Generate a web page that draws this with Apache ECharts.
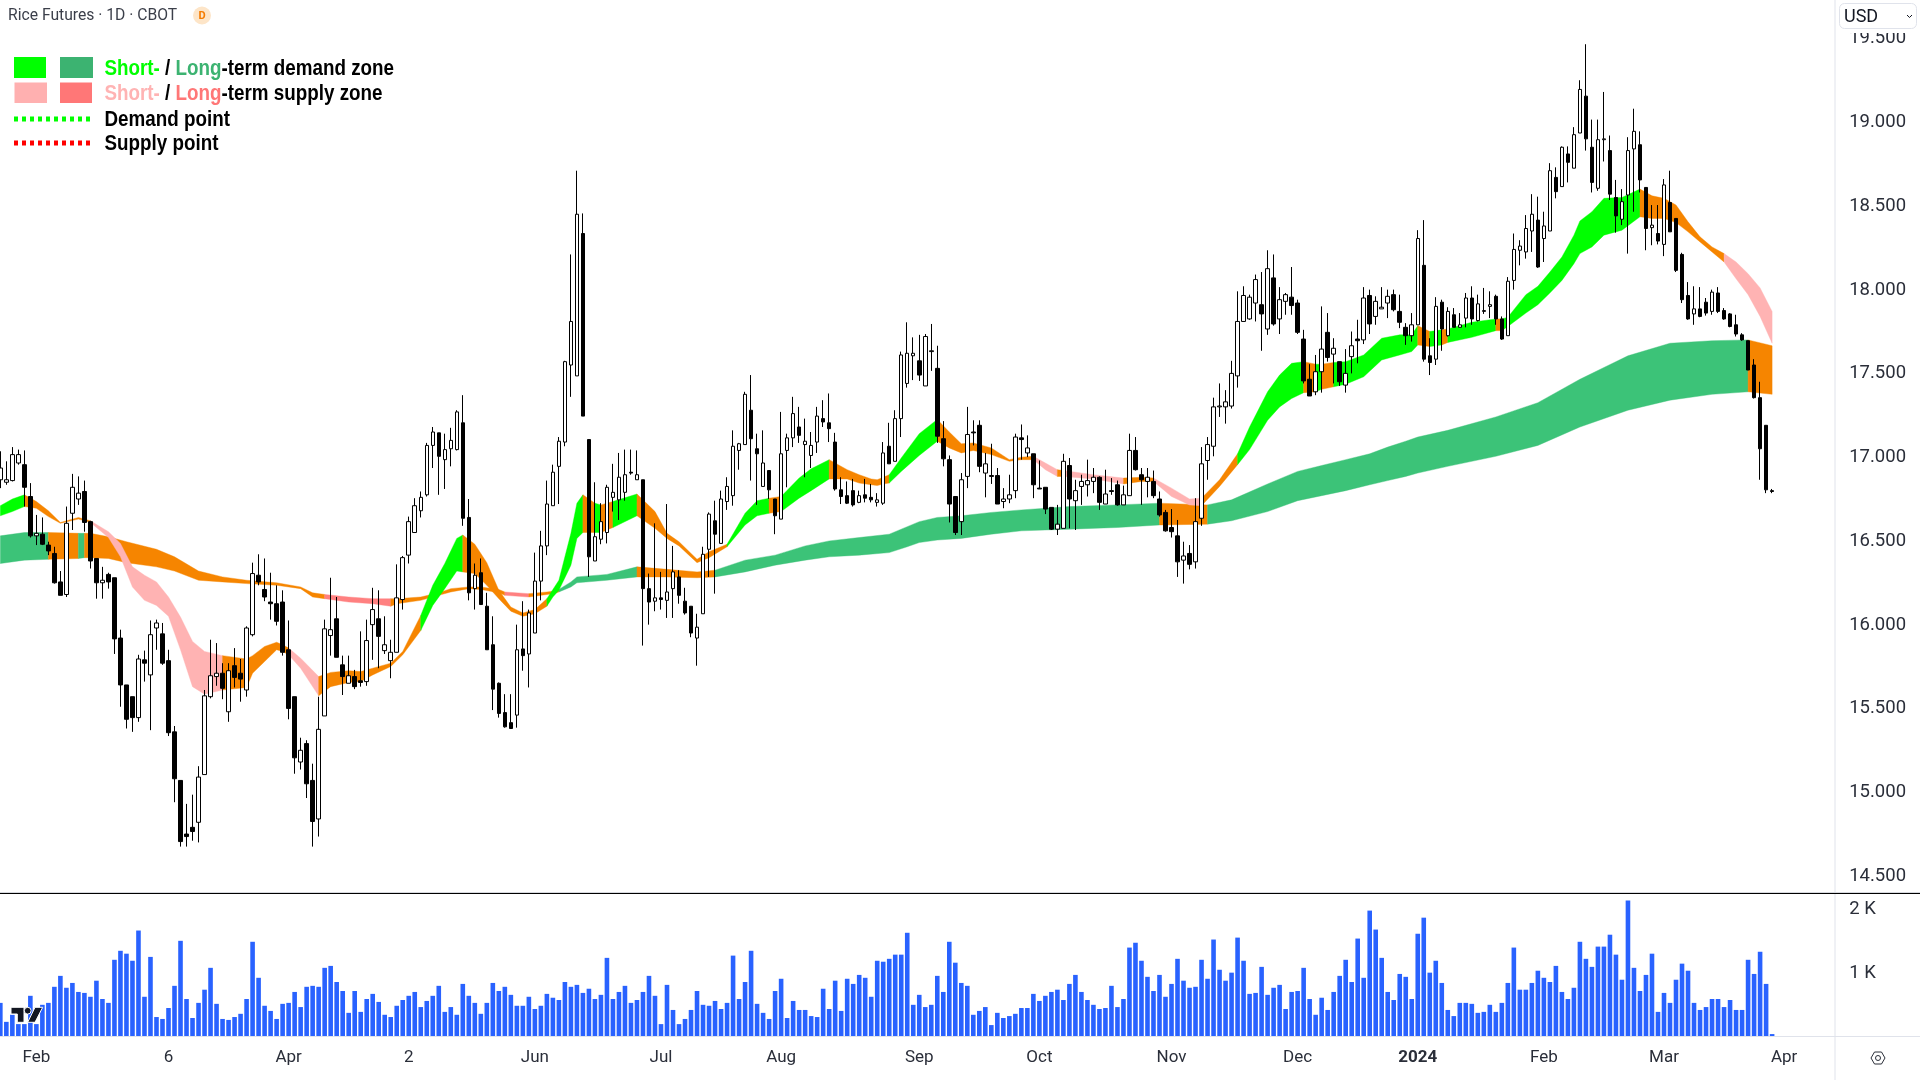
<!DOCTYPE html>
<html><head><meta charset="utf-8">
<style>html,body{margin:0;padding:0;background:#fff}#c{width:1920px;height:1080px}</style>
<script src="https://cdn.jsdelivr.net/npm/echarts@6/dist/echarts.min.js"></script>
</head><body><div id="c"></div>
<script>
const openPrices=[16.855,16.84,16.85,16.955,16.945,16.755,16.52,16.53,16.465,16.415,
16.245,16.17,16.655,16.74,16.785,16.605,16.385,16.24,16.29,16.27,
15.91,15.63,15.56,15.435,15.78,15.69,15.97,15.935,15.775,15.35,
15.06,14.74,14.78,14.81,15.095,15.56,15.68,15.70,15.47,15.745,
15.70,15.60,15.93,16.285,16.20,16.125,16.115,16.125,15.84,15.56,
15.17,15.28,15.06,14.83,15.445,15.925,16.025,15.75,15.64,15.68,
15.655,15.65,15.99,16.025,15.835,15.775,15.825,16.14,16.405,16.54,
16.67,16.765,17.06,17.135,16.975,17.04,17.035,17.195,16.63,16.205,
16.30,16.10,15.87,15.64,15.465,15.405,15.45,15.845,15.815,15.94,
16.25,16.46,16.70,16.935,17.08,17.54,17.475,18.325,17.095,16.37,
16.50,16.54,16.75,16.735,16.78,16.90,16.855,16.855,16.205,16.13,
16.15,16.135,16.205,16.275,16.13,16.10,15.91,16.055,16.44,16.61,
16.475,16.725,16.76,17.03,17.065,17.27,17.04,16.815,16.91,16.74,
16.62,17.03,17.105,17.17,17.065,17.0,17.08,17.22,17.195,17.08,
16.795,16.76,16.79,16.72,16.765,16.75,16.72,16.715,17.055,16.965,
17.22,17.43,17.595,17.565,17.415,17.62,17.52,17.10,16.975,16.755,
16.605,16.875,17.14,17.18,16.895,16.88,16.88,16.725,16.74,16.79,
17.105,17.015,17.01,16.805,16.81,16.69,16.56,16.565,16.94,16.73,
16.815,16.825,16.845,16.87,16.71,16.79,16.825,16.705,16.76,17.03,
16.885,16.845,16.845,16.74,16.66,16.57,16.52,16.375,16.415,16.365,
16.625,16.97,17.055,17.29,17.29,17.295,17.475,17.80,17.815,17.91,
17.90,17.755,18.06,17.815,17.92,17.945,17.91,17.695,17.455,17.38,
17.50,17.735,17.605,17.56,17.42,17.59,17.695,17.69,17.955,17.83,
17.875,17.91,17.96,17.86,17.765,17.715,17.78,18.135,17.595,17.575,
17.915,17.715,17.84,17.765,17.82,17.94,17.805,17.86,17.89,17.95,
17.815,17.715,18.045,18.225,18.215,18.34,18.405,18.295,18.34,18.66,
18.605,18.80,18.715,18.925,19.145,18.84,18.595,18.885,18.82,18.54,
18.41,18.555,18.83,18.855,18.60,18.36,18.325,18.26,18.51,18.415,
18.20,17.955,17.845,17.875,17.915,17.86,17.97,17.865,17.845,17.78,
17.72,17.685,17.54,17.345,17.18,16.79];
const closePrices=[16.925,16.855,17.005,17.005,16.81,16.52,16.535,16.47,16.43,16.24,
16.165,16.595,16.81,16.775,16.60,16.37,16.24,16.255,16.245,15.905,
15.63,15.425,15.435,15.785,15.76,15.93,16.0,15.76,15.345,15.07,
14.695,14.725,14.755,15.08,15.565,15.685,15.70,15.61,15.715,15.675,
15.665,15.97,16.295,16.245,16.155,16.115,16.01,15.825,15.49,15.195,
15.24,15.04,14.815,15.365,15.965,15.96,15.795,15.68,15.685,15.62,
15.645,15.895,16.08,15.92,15.87,15.825,16.15,16.39,16.605,16.70,
16.75,17.06,17.14,16.995,17.035,17.09,17.26,16.625,16.18,16.285,
16.11,15.84,15.605,15.46,15.38,15.37,15.84,15.805,16.06,16.25,
16.46,16.71,16.90,17.085,17.56,17.80,18.44,17.235,16.395,16.515,
16.605,16.81,16.78,16.87,16.885,16.895,16.885,16.205,16.125,16.15,
16.14,16.185,16.305,16.165,16.06,15.94,15.975,16.41,16.65,16.53,
16.74,16.815,17.055,17.07,17.365,17.10,17.01,16.955,16.795,16.64,
17.01,17.105,17.25,17.12,17.085,17.06,17.235,17.20,17.16,16.80,
16.755,16.715,16.705,16.76,16.745,16.735,16.735,17.015,16.95,17.22,
17.60,17.61,17.61,17.48,17.71,17.625,17.115,16.98,16.71,16.54,
16.855,17.125,17.135,16.935,16.95,16.875,16.71,16.74,16.765,17.11,
17.095,17.045,16.825,16.80,16.68,16.56,16.59,16.965,16.74,16.79,
16.845,16.85,16.87,16.72,16.77,16.785,16.705,16.765,17.03,16.915,
16.855,16.87,16.76,16.645,16.55,16.545,16.365,16.40,16.35,16.605,
16.95,17.065,17.29,17.295,17.32,17.49,17.80,17.955,17.945,18.05,
17.845,18.115,17.785,17.93,17.96,17.895,17.735,17.445,17.355,17.50,
17.635,17.585,17.64,17.44,17.49,17.655,17.685,17.94,17.785,17.92,
17.885,17.95,17.87,17.795,17.715,17.78,18.295,17.575,17.555,17.89,
17.755,17.86,17.765,17.78,17.94,17.815,17.905,17.865,17.90,17.815,
17.695,18.04,18.23,18.25,18.355,18.44,18.125,18.37,18.70,18.575,
18.84,18.75,18.915,19.185,18.89,18.63,18.885,18.89,18.56,18.43,
18.515,18.82,18.935,18.645,18.355,18.375,18.28,18.615,18.335,18.105,
17.93,17.815,17.875,17.83,17.85,17.975,17.86,17.815,17.77,17.725,
17.69,17.51,17.345,17.04,16.795,16.785];
const lowPrices=[16.805,16.825,16.845,16.945,16.695,16.51,16.465,16.465,16.405,16.235,
16.165,16.155,16.555,16.705,16.545,16.325,16.145,16.145,16.205,15.815,
15.50,15.37,15.35,15.41,15.65,15.36,15.84,15.75,15.325,14.93,
14.665,14.665,14.70,14.69,15.095,15.55,15.625,15.545,15.41,15.615,
15.53,15.56,15.92,16.225,16.13,16.02,15.985,15.805,15.425,15.10,
15.125,14.955,14.665,14.725,15.445,15.805,15.795,15.57,15.64,15.605,
15.62,15.625,15.78,15.73,15.815,15.67,15.825,16.08,16.355,16.54,
16.63,16.755,16.925,16.765,16.80,16.935,17.03,16.58,16.135,16.08,
16.11,15.84,15.48,15.435,15.375,15.37,15.375,15.715,15.615,15.94,
16.135,16.405,16.70,16.71,17.055,17.35,17.475,17.235,16.275,16.37,
16.47,16.475,16.665,16.615,16.73,16.885,16.855,15.865,15.99,16.07,
16.08,16.03,16.03,16.115,16.05,15.915,15.745,16.055,16.275,16.175,
16.475,16.675,16.70,16.915,17.065,16.85,16.705,16.815,16.74,16.53,
16.62,16.81,17.05,17.075,16.87,16.925,17.015,17.17,17.08,16.79,
16.71,16.71,16.695,16.715,16.72,16.72,16.695,16.705,16.95,16.965,
17.11,17.405,17.45,17.445,17.415,17.505,17.075,16.935,16.60,16.525,
16.525,16.805,17.06,16.90,16.75,16.83,16.71,16.685,16.715,16.745,
16.975,16.99,16.745,16.80,16.65,16.555,16.525,16.565,16.565,16.555,
16.705,16.755,16.775,16.675,16.71,16.765,16.70,16.705,16.76,16.91,
16.705,16.75,16.745,16.635,16.545,16.51,16.275,16.235,16.32,16.325,
16.58,16.855,16.995,17.23,17.19,17.28,17.405,17.80,17.81,17.80,
17.625,17.72,17.775,17.725,17.84,17.84,17.725,17.43,17.355,17.36,
17.375,17.56,17.43,17.415,17.375,17.49,17.55,17.665,17.725,17.78,
17.875,17.82,17.86,17.76,17.66,17.68,17.78,17.56,17.48,17.54,
17.625,17.71,17.765,17.765,17.765,17.78,17.80,17.845,17.82,17.78,
17.69,17.715,17.99,18.135,18.175,18.215,18.12,18.155,18.34,18.535,
18.605,18.63,18.715,18.925,18.82,18.57,18.58,18.755,18.525,18.33,
18.375,18.205,18.455,18.57,18.225,18.255,18.26,18.19,18.335,18.095,
17.91,17.81,17.78,17.825,17.835,17.84,17.85,17.81,17.765,17.71,
17.685,17.51,17.34,16.855,16.775,16.775];
const highPrices=[17.025,16.965,17.05,17.035,17.03,16.835,16.645,16.63,16.485,16.455,
16.31,16.695,16.89,16.875,16.85,16.61,16.385,16.335,16.30,16.27,
15.96,15.63,15.56,15.81,15.835,16.015,16.02,16.0,15.84,15.385,
15.06,14.92,14.975,15.145,15.60,15.90,15.88,15.76,15.76,15.85,
15.785,15.98,16.36,16.41,16.385,16.30,16.225,16.195,16.015,15.56,
15.315,15.30,15.16,15.56,16.02,16.27,16.155,15.805,15.805,15.72,
15.95,16.02,16.21,16.195,16.04,15.90,16.35,16.40,16.635,16.745,
16.785,17.075,17.17,17.135,17.13,17.165,17.27,17.36,16.74,16.355,
16.385,16.18,16.04,15.645,15.575,15.575,15.99,16.13,16.08,16.42,
16.55,16.85,16.945,17.11,17.565,18.20,18.70,18.445,17.095,16.84,
16.715,16.825,16.95,17.015,17.035,17.035,17.03,16.855,16.295,16.595,
16.305,16.71,16.46,16.315,16.21,16.10,16.055,16.455,16.66,16.73,
16.79,16.87,17.15,17.075,17.38,17.48,17.13,17.15,16.91,16.74,
17.26,17.13,17.35,17.29,17.22,17.14,17.29,17.33,17.37,17.135,
16.87,16.845,16.86,16.79,16.86,16.83,16.775,17.08,17.195,17.27,
17.62,17.795,17.705,17.72,17.725,17.785,17.655,17.205,17.0,16.755,
16.895,17.29,17.21,17.21,17.015,17.07,16.925,16.805,16.885,17.13,
17.185,17.12,17.01,16.97,16.81,16.69,16.705,17.01,16.985,16.855,
16.885,16.975,16.925,16.875,16.915,16.865,16.85,16.82,17.13,17.11,
16.925,16.925,16.91,16.785,16.675,16.68,16.615,16.485,16.465,16.745,
17.05,17.11,17.345,17.43,17.39,17.565,17.98,18.01,17.96,18.08,
18.095,18.225,18.20,18.005,17.97,18.125,17.93,17.75,17.545,17.60,
17.89,17.85,17.70,17.56,17.635,17.74,17.81,18.005,17.99,17.95,
18.005,17.99,17.99,17.96,17.79,17.85,18.345,18.405,17.70,17.945,
17.93,17.885,17.88,17.85,17.97,18.01,17.96,18.0,17.98,17.96,
17.83,18.065,18.325,18.285,18.435,18.56,18.545,18.455,18.745,18.72,
18.845,18.845,18.96,19.24,19.455,19.005,19.005,19.17,18.91,18.645,
18.59,18.90,19.07,18.935,18.60,18.495,18.495,18.65,18.70,18.415,
18.21,18.035,18.01,18.005,17.94,17.99,18.005,17.88,17.85,17.84,
17.73,17.685,17.575,17.44,17.18,16.80];
const volumes=[515,220,330,185,185,625,185,485,515,765,935,750,825,685,670,610,860,575,515,1185,
1325,1280,1170,1640,610,1230,295,265,435,780,1480,575,280,515,720,1060,500,265,250,295,
345,575,1465,905,470,390,265,500,515,685,450,765,780,765,1060,1090,840,700,360,700,
375,575,655,530,330,295,470,560,625,685,450,545,625,780,375,450,330,810,625,515,
345,515,825,700,765,640,470,470,610,420,470,655,595,560,840,765,795,670,735,575,
640,1215,575,685,780,515,560,
685,935,625,185,795,405,185,265,405,700,485,470,545,420,515,1250,575,840,1325,500,
360,265,700,890,280,545,405,405,310,295,735,420,860,390,890,810,950,905,610,1170,
1155,1200,1265,1265,1605,485,640,450,485,935,685,1465,1140,825,780,330,390,450,170,360,
280,310,345,435,435,655,545,625,685,720,560,810,950,685,560,485,420,435,780,450,
575,1375,1450,1170,920,700,950,610,810,1200,860,750,765,1185,890,1500,1030,860,985,1530,
1170,655,670,1075,640,750,795,
420,685,700,1060,575,330,595,405,685,935,1185,840,1515,905,1950,1655,1215,685,560,965,
920,575,1590,1840,985,1170,825,405,310,515,515,500,360,375,485,375,515,825,1375,720,
720,825,1015,905,840,1090,685,575,750,1465,1200,1075,1390,1390,1575,1265,875,2105,1060,700,
950,1280,375,670,515,875,1125,1015,515,405,450,575,575,450,560,405,405,1185,965,1310,810,30];
// zones: [bar index, upper price, lower price, zone that starts here]
const longTermZone=[[0,16.52,16.355,'D'],[4,16.54,16.375,'D'],[8,16.54,16.38,'O'],[13,16.535,16.385,'D'],[14,16.535,16.39,'O'],[15,16.535,16.39,'O'],[18,16.515,16.385,'O'],[21,16.485,16.36,'O'],[26,16.44,16.335,'O'],[29,16.395,16.31,'O'],[33,16.31,16.255,'O'],[37,16.275,16.245,'O'],[41,16.255,16.235,'O'],[46,16.24,16.225,'O'],[50,16.215,16.205,'O'],[52,16.18,16.155,'O'],[54,16.17,16.145,'R'],[58,16.155,16.125,'R'],[62,16.145,16.115,'R'],[65,16.145,16.10,'O'],[66,16.145,16.115,'O'],[70,16.155,16.135,'O'],[73,16.18,16.165,'O'],[75,16.205,16.185,'O'],[78,16.215,16.205,'O'],[80,16.215,16.20,'O'],[83,16.20,16.18,'O'],[84,16.185,16.165,'R'],[88,16.175,16.155,'O'],[91,16.185,16.17,'O'],[92,16.19,16.175,'O'],[93,16.20,16.185,'D'],[95,16.245,16.215,'D'],[96,16.275,16.24,'D'],[101,16.29,16.255,'D'],[106,16.335,16.275,'O'],[111,16.32,16.275,'O'],[116,16.305,16.27,'O'],[119,16.315,16.275,'D'],[124,16.375,16.305,'D'],[129,16.405,16.345,'D'],[134,16.46,16.375,'D'],[138,16.49,16.395,'D'],[143,16.51,16.405,'D'],[148,16.53,16.42,'D'],[151,16.575,16.455,'D'],[153,16.605,16.48,'D'],[156,16.63,16.495,'D'],[160,16.64,16.505,'D'],[165,16.66,16.53,'D'],[170,16.675,16.55,'D'],[178,16.695,16.56,'D'],[186,16.705,16.57,'D'],[193,16.715,16.585,'O'],[201,16.705,16.59,'D'],[205,16.735,16.61,'D'],[211,16.83,16.665,'D'],[216,16.905,16.73,'D'],[220,16.94,16.76,'D'],[224,16.975,16.79,'D'],[228,17.01,16.825,'D'],[231,17.05,16.85,'D'],[234,17.085,16.875,'D'],[236,17.11,16.895,'D'],[241,17.15,16.935,'D'],[249,17.23,16.995,'D'],[256,17.315,17.06,'D'],[263,17.455,17.17,'D'],[271,17.595,17.27,'D'],[278,17.67,17.33,'D'],[285,17.685,17.365,'D'],[291,17.69,17.38,'O'],[295,17.655,17.365,'O']];
const shortTermZone=[[0,16.70,16.64,'G'],[2,16.74,16.665,'G'],[4,16.765,16.695,'O'],[6,16.725,16.685,'O'],[8,16.67,16.635,'O'],[10,16.60,16.595,'O'],[13,16.63,16.62,'O'],[15,16.61,16.60,'P'],[18,16.545,16.51,'P'],[20,16.475,16.395,'P'],[22,16.335,16.215,'P'],[24,16.285,16.135,'P'],[26,16.245,16.105,'P'],[28,16.155,16.04,'P'],[30,16.035,15.84,'P'],[32,15.89,15.62,'P'],[34,15.83,15.575,'P'],[37,15.805,15.60,'O'],[41,15.785,15.615,'O'],[42,15.805,15.70,'O'],[44,15.86,15.77,'O'],[46,15.885,15.84,'O'],[47,15.87,15.83,'O'],[48,15.85,15.81,'P'],[50,15.79,15.73,'P'],[53,15.68,15.565,'O'],[55,15.705,15.62,'O'],[58,15.715,15.645,'O'],[60,15.71,15.65,'O'],[62,15.73,15.69,'O'],[65,15.76,15.74,'O'],[67,15.83,15.81,'O'],[70,16.045,15.955,'G'],[72,16.225,16.105,'G'],[74,16.355,16.205,'G'],[76,16.505,16.31,'G'],[77,16.525,16.305,'O'],[79,16.47,16.295,'O'],[81,16.36,16.225,'O'],[83,16.195,16.145,'O'],[85,16.095,16.07,'O'],[87,16.06,16.04,'O'],[89,16.08,16.055,'O'],[91,16.145,16.10,'G'],[92,16.20,16.155,'G'],[93,16.255,16.195,'G'],[95,16.535,16.345,'G'],[96,16.715,16.505,'G'],[97,16.765,16.54,'O'],[99,16.715,16.54,'G'],[100,16.705,16.54,'O'],[102,16.725,16.57,'G'],[106,16.77,16.64,'O'],[109,16.665,16.565,'O'],[111,16.535,16.505,'O'],[113,16.485,16.46,'O'],[116,16.38,16.36,'O'],[118,16.425,16.39,'O'],[121,16.47,16.455,'G'],[124,16.655,16.585,'G'],[126,16.73,16.64,'G'],[128,16.745,16.655,'O'],[130,16.755,16.665,'G'],[133,16.865,16.745,'G'],[135,16.92,16.79,'G'],[138,16.975,16.86,'O'],[141,16.915,16.86,'O'],[143,16.885,16.835,'O'],[145,16.86,16.825,'O'],[146,16.855,16.82,'O'],[147,16.87,16.83,'O'],[148,16.885,16.835,'G'],[150,16.985,16.905,'G'],[153,17.13,17.0,'G'],[156,17.215,17.085,'O'],[158,17.14,17.045,'O'],[160,17.07,17.015,'O'],[162,17.075,17.03,'O'],[165,17.045,17.005,'O'],[168,16.975,16.965,'O'],[170,16.99,16.975,'O'],[172,16.995,16.975,'P'],[174,16.955,16.915,'P'],[176,16.915,16.875,'O'],[177,16.91,16.875,'P'],[182,16.885,16.86,'P'],[187,16.865,16.83,'O'],[190,16.87,16.845,'O'],[192,16.865,16.845,'P'],[195,16.805,16.755,'P'],[198,16.74,16.705,'P'],[200,16.745,16.70,'O'],[203,16.855,16.815,'O'],[206,17.01,16.945,'G'],[208,17.17,17.035,'G'],[211,17.38,17.21,'G'],[213,17.48,17.29,'G'],[215,17.55,17.34,'G'],[217,17.56,17.375,'O'],[219,17.545,17.38,'G'],[220,17.545,17.395,'O'],[222,17.555,17.41,'G'],[224,17.56,17.425,'G'],[227,17.60,17.47,'G'],[230,17.70,17.57,'G'],[233,17.72,17.60,'G'],[235,17.72,17.62,'G'],[236,17.775,17.66,'O'],[238,17.74,17.65,'G'],[240,17.75,17.66,'O'],[241,17.755,17.675,'G'],[245,17.795,17.705,'G'],[249,17.815,17.745,'O'],[250,17.815,17.745,'G'],[251,17.825,17.77,'G'],[254,17.96,17.85,'G'],[256,18.01,17.90,'G'],[258,18.095,17.97,'G'],[260,18.185,18.045,'G'],[262,18.315,18.145,'G'],[263,18.40,18.205,'G'],[265,18.455,18.245,'G'],[267,18.535,18.315,'G'],[270,18.54,18.345,'G'],[273,18.59,18.425,'O'],[275,18.55,18.415,'O'],[277,18.535,18.415,'O'],[279,18.495,18.39,'O'],[281,18.395,18.335,'O'],[283,18.305,18.275,'O'],[285,18.245,18.215,'O'],[287,18.205,18.155,'P'],[289,18.155,18.055,'P'],[291,18.085,17.96,'P'],[293,18.0,17.83,'P'],[295,17.86,17.67,'P']];
const zoneColors={G:'#00ff00',D:'#3cc378',O:'#f68500',P:'#ffb3b3',R:'#ff8080'};
const barSlots=306;
const categories=Array.from({length:barSlots},(_,i)=>String(i));
const tickBars=[6,28,48,68,89,110,130,153,173,195,216,236,257,277,297];
const tickLabels=['Feb','6','Apr','2','Jun','Jul','Aug','Sep','Oct','Nov','Dec','2024','Feb','Mar','Apr'];
const priceTicks=[14.5,15,15.5,16,16.5,17,17.5,18,18.5,19,19.5];
const volumeTicks=[1000,2000];

function runs(knots){
  const out=[];let cur=null;
  for(let j=0;j<knots.length-1;j++){
    const k=knots[j];
    if(!cur||cur.key!==k[3]){cur={key:k[3],pts:[k]};out.push(cur);}
    cur.pts.push(knots[j+1]);
  }
  return out;
}
function zoneSeries(name,knots,z){
  const rs=runs(knots);
  return {type:'custom',name,xAxisIndex:0,yAxisIndex:0,z,silent:true,clip:true,
    data:rs.map(r=>[r.pts[0][0],r.pts[0][1]]),encode:{x:0,y:1},
    renderItem(params,api){
      const r=rs[params.dataIndex];
      const up=r.pts.map(p=>api.coord([p[0],p[1]]));
      const dn=r.pts.map(p=>api.coord([p[0],p[2]])).reverse();
      return {type:'polygon',shape:{points:up.concat(dn)},style:{fill:zoneColors[r.key],stroke:zoneColors[r.key],lineWidth:0.4}};
    }};
}
const AF='Roboto, sans-serif', LF='"Liberation Sans",Arial,sans-serif';
const lg=(c)=>({fill:c,fontFamily:LF,fontSize:21.5,fontWeight:'bold'});
const legendRich={a:lg('#00ff00'),b:lg('#3cb371'),c:lg('#ffb3b3'),d:lg('#ff7777'),k:lg('#000')};
const legendText=(y,t)=>({type:'text',z:50,x:104.5,y,scaleX:0.875,style:{x:0,y:0,text:t,rich:legendRich,verticalAlign:'middle',fill:'#000',fontFamily:LF,fontSize:21.5,fontWeight:'bold'}});
const rect=(x,y,w,h,fill)=>({type:'rect',z:50,shape:{x,y,width:w,height:h},style:{fill}});
const graphic=[
 {type:'line',z:40,shape:{x1:1835,y1:0,x2:1835,y2:1080},style:{stroke:'#e0e3eb',lineWidth:1}},
 {type:'line',z:40,shape:{x1:0,y1:1036.5,x2:1920,y2:1036.5},style:{stroke:'#e0e3eb',lineWidth:1}},
 {type:'line',z:41,shape:{x1:0,y1:892.5,x2:1920,y2:892.5},style:{stroke:'#d6d8de',lineWidth:1}},
 {type:'line',z:41,shape:{x1:0,y1:893.5,x2:1920,y2:893.5},style:{stroke:'#000',lineWidth:1}},
 rect(1836,0,84,33,'#fff'),
 {type:'rect',z:50,shape:{x:1839.5,y:3.5,width:77,height:25,r:5},style:{fill:'#fff',stroke:'#e0e3eb',lineWidth:1}},
 {type:'text',z:51,style:{x:1844,y:17,text:'USD',fill:'#131722',fontFamily:AF,fontSize:18,verticalAlign:'middle'}},
 {type:'polyline',z:51,shape:{points:[[1907,15],[1909.5,17.5],[1912,15]]},style:{stroke:'#131722',lineWidth:1,fill:'none'}},
 {type:'text',z:50,style:{x:8,y:16.5,text:'Rice Futures · 1D · CBOT',fill:'#3b3f4a',fontFamily:AF,fontSize:15.7,verticalAlign:'middle'}},
 {type:'circle',z:50,shape:{cx:202,cy:15.5,r:9},style:{fill:'#fde5c8'}},
 {type:'text',z:51,style:{x:202,y:16,text:'D',fill:'#f57c00',fontFamily:AF,fontSize:11,fontWeight:'bold',align:'center',verticalAlign:'middle'}},
 rect(14,57,32,21,'#00ff00'),rect(60,57,33,21,'#3cb371'),
 rect(14.5,82.5,32.5,20.5,'#ffb0b0'),rect(60,82.5,32,20.5,'#ff7777'),
 {type:'line',z:50,shape:{x1:14,y1:119,x2:92,y2:119},style:{stroke:'#00ff00',lineWidth:5,lineDash:[4,4]}},
 {type:'line',z:50,shape:{x1:14,y1:143,x2:92,y2:143},style:{stroke:'#ff0000',lineWidth:5,lineDash:[4,4]}},
 legendText(69,'{a|Short-}{k| / }{b|Long}{k|-term demand zone}'),
 legendText(94.5,'{c|Short-}{k| / }{d|Long}{k|-term supply zone}'),
 legendText(120,'{k|Demand point}'),
 legendText(144.5,'{k|Supply point}'),
 {type:'polygon',z:60,shape:{points:[[11,1007.3],[24,1007.3],[24,1022.3],[17.3,1022.3],[17.3,1014],[11,1014]]},style:{fill:'#131722',stroke:'#fff',lineWidth:1}},
 {type:'circle',z:60,shape:{cx:27.7,cy:1010.7,r:3.4},style:{fill:'#131722',stroke:'#fff',lineWidth:1}},
 {type:'polygon',z:60,shape:{points:[[35,1007.3],[42.7,1007.3],[35,1022.3],[27.7,1022.3]]},style:{fill:'#131722',stroke:'#fff',lineWidth:1}},
 {type:'polygon',z:50,shape:{points:[[1871,1058],[1874.5,1052],[1881.5,1052],[1885,1058],[1881.5,1064],[1874.5,1064]]},style:{fill:'none',stroke:'#2a2e39',lineWidth:1}},
 {type:'circle',z:50,shape:{cx:1878,cy:1058,r:2.5},style:{fill:'none',stroke:'#2a2e39',lineWidth:1}}
];
const yLabelRich={p:{fontFamily:AF,fontSize:18.5,color:'#2a2e39',padding:[4,0,0,0]}};
const chart=echarts.init(document.getElementById('c'),null,{renderer:'canvas'});
chart.setOption({
 animation:false,backgroundColor:'#fff',
 grid:[{left:-2.67,width:1837.84,top:0,height:893,outerBoundsMode:'none'},{left:-2.67,width:1837.84,top:894,height:142,outerBoundsMode:'none'}],
 xAxis:[
  {type:'category',gridIndex:0,data:categories,boundaryGap:true,axisLine:{show:false},axisTick:{show:false},axisLabel:{show:false},splitLine:{show:false}},
  {type:'category',gridIndex:1,data:categories,boundaryGap:true,axisLine:{show:false},axisTick:{show:false},splitLine:{show:false},
   axisLabel:{show:true,interval:(i)=>tickBars.includes(i),hideOverlap:false,margin:13,fontFamily:AF,fontSize:17,color:'#2a2e39',
    rich:{b:{fontFamily:AF,fontSize:17,fontWeight:'bold',color:'#2a2e39'}},
    formatter:(v,i)=>{const t=tickLabels[tickBars.indexOf(i)];return t==='2024'?'{b|2024}':t;}}}
 ],
 yAxis:[
  {type:'value',gridIndex:0,position:'right',min:14.388,max:19.719,axisLine:{show:false},axisTick:{show:false},splitLine:{show:false},
   axisLabel:{customValues:priceTicks,margin:14,align:'left',rich:yLabelRich,formatter:(v)=>'{p|'+v.toFixed(3)+'}'}},
  {type:'value',gridIndex:1,position:'right',min:0,max:2208,axisLine:{show:false},axisTick:{show:false},splitLine:{show:false},
   axisLabel:{customValues:volumeTicks,margin:14,align:'left',rich:yLabelRich,formatter:(v)=>'{p|'+(v/1000)+' K}'}}
 ],
 series:[
  zoneSeries('Long-term zone',longTermZone,1),
  zoneSeries('Short-term zone',shortTermZone,2),
  {type:'candlestick',name:'Rice Futures',xAxisIndex:0,yAxisIndex:0,z:3,barWidth:4,
   itemStyle:{color:'#ffffff',color0:'#000000',borderColor:'#000000',borderColor0:'#000000',borderWidth:1},
   data:openPrices.map((o,i)=>[o,closePrices[i],lowPrices[i],highPrices[i]])},
  {type:'bar',name:'Volume',xAxisIndex:1,yAxisIndex:1,barWidth:4.6,itemStyle:{color:'#2962ff'},data:volumes}
 ],
 graphic
});
</script></body></html>
